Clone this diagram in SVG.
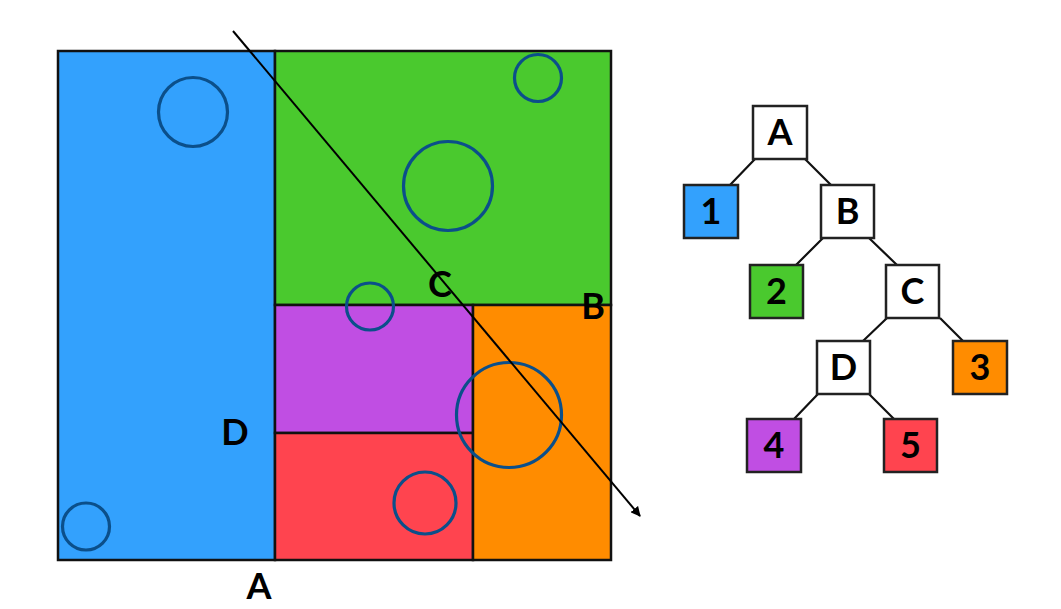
<svg xmlns="http://www.w3.org/2000/svg" width="1061" height="609" viewBox="0 0 1061 609">
<style>
.reg{stroke:#111;stroke-width:2.5}
.circ{fill:none;stroke:#0b4f8a;stroke-width:3.2}
.lbl{font-family:Lato,"Liberation Sans",sans-serif;font-weight:bold;font-size:36px;fill:#000;text-anchor:middle}
.node{stroke:#222;stroke-width:2.5}
.edge{stroke:#111;stroke-width:2.2;fill:none}
</style>
<defs>
<marker id="ah" viewBox="0 0 10 10" refX="9" refY="5" markerWidth="5" markerHeight="5" orient="auto" markerUnits="strokeWidth">
<path d="M0,0 L10,5 L0,10 z" fill="#000"/>
</marker>
</defs>
<rect width="1061" height="609" fill="#fff"/>
<g id="regions">
<rect id="r1" class="reg" x="58" y="51" width="217" height="509" fill="#33a1fd"/>
<rect id="r2" class="reg" x="275" y="51" width="336" height="254" fill="#4ac92e"/>
<rect id="r4" class="reg" x="275" y="305" width="198" height="128" fill="#c04ee3"/>
<rect id="r5" class="reg" x="275" y="433" width="198" height="127" fill="#ff444f"/>
<rect id="r3" class="reg" x="473" y="305" width="138" height="255" fill="#ff8c00"/>
</g>
<g id="circles">
<circle class="circ" cx="193" cy="112" r="34.5"/>
<circle class="circ" cx="538" cy="78" r="23.5"/>
<circle class="circ" cx="448" cy="186" r="44.5"/>
<circle class="circ" cx="370" cy="306.5" r="23.5"/>
<circle class="circ" cx="509" cy="415" r="52.5"/>
<circle class="circ" cx="425" cy="503" r="31"/>
<circle class="circ" cx="86" cy="526.5" r="23.5"/>
</g>
<g id="connectors">
<line x1="233" y1="31" x2="640" y2="516" stroke="#000" stroke-width="2" marker-end="url(#ah)"/>
<path class="edge" d="M755,159 L730,185 M805,159 L831,185 M823,238 L796,265 M869,238 L897,265 M887,318 L863,341 M940,318 L963,341 M818,394 L794,419 M869,394 L894,419"/>
</g>
<g id="labels">
<text class="lbl" x="440" y="297">C</text>
<text class="lbl" x="593" y="319">B</text>
<text class="lbl" x="235" y="445">D</text>
<text class="lbl" x="259" y="599">A</text>
</g>
<g id="nA"><rect class="node" x="753" y="106" width="54" height="53" fill="#fff"/><text class="lbl" x="780" y="145">A</text></g>
<g id="n1"><rect class="node" x="684" y="185" width="54" height="53" fill="#33a1fd"/><text class="lbl" x="711" y="224">1</text></g>
<g id="nB"><rect class="node" x="821" y="185" width="53" height="53" fill="#fff"/><text class="lbl" x="847.5" y="224">B</text></g>
<g id="n2"><rect class="node" x="750" y="265" width="53" height="53" fill="#4ac92e"/><text class="lbl" x="776.5" y="304">2</text></g>
<g id="nC"><rect class="node" x="886" y="265" width="53" height="53" fill="#fff"/><text class="lbl" x="912.5" y="304">C</text></g>
<g id="nD"><rect class="node" x="817" y="341" width="53" height="53" fill="#fff"/><text class="lbl" x="843.5" y="380">D</text></g>
<g id="n3"><rect class="node" x="953" y="341" width="54" height="53" fill="#ff8c00"/><text class="lbl" x="980" y="380">3</text></g>
<g id="n4"><rect class="node" x="747" y="419" width="54" height="53" fill="#c04ee3"/><text class="lbl" x="774" y="458">4</text></g>
<g id="n5"><rect class="node" x="884" y="419" width="53" height="53" fill="#ff444f"/><text class="lbl" x="910.5" y="458">5</text></g>
</svg>
